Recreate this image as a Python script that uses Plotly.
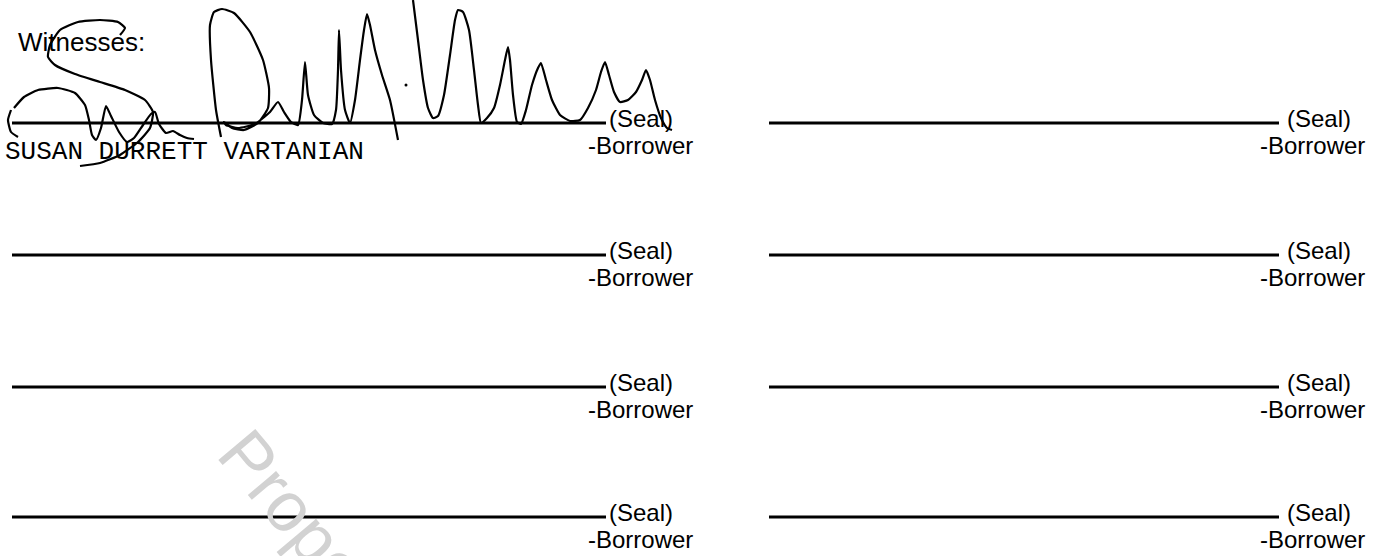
import plotly.graph_objects as go

# ---- data (pixel units of a 1384x556 page) ----
row_line_y = [123, 255, 387, 517]
left_line_x = [12, 606]
right_line_x = [769, 1279]
seal_label = "(Seal)"
borrower_label = "-Borrower"
witness_label = "Witnesses:"
printed_name = "SUSAN DURRETT VARTANIAN"
watermark_text = "Property of"

# signature strokes (traced)
sig_a_x = [11, 8, 11, 18]
sig_a_y = [110, 120, 132, 137]

sig_b_x = [120, 125, 118, 100, 78, 60, 50, 48, 55, 75, 100, 125, 145, 153, 150, 138, 120, 100, 80]
sig_b_y = [35, 28, 22, 20, 22, 30, 45, 57, 65, 74, 82, 90, 100, 112, 128, 142, 155, 163, 166]

sig_c_x = [14, 24, 38, 58, 75, 85, 89, 92, 96, 101, 106, 111, 119, 127, 134, 143, 151, 155, 159, 166, 173, 180, 187, 194]
sig_c_y = [108, 97, 90, 88, 93, 105, 120, 135, 140, 128, 106, 116, 132, 142, 138, 125, 114, 112, 124, 133, 131, 135, 138, 139]

sig_d_x = [221, 216, 211, 210, 214, 222, 234, 250, 263, 269, 268, 258, 244, 232, 224, 226, 238, 255, 270, 278, 284, 291, 298,
           302, 305, 308, 314, 323, 332, 336, 338, 339, 341, 345, 350, 355, 360, 364, 367, 370, 375, 382, 390, 398]
sig_d_y = [137, 110, 60, 25, 12, 9, 13, 32, 60, 88, 108, 123, 130, 128, 122, 125, 128, 124, 112, 102, 112, 122, 125,
           100, 62, 95, 115, 123, 124, 110, 70, 30, 70, 110, 123, 100, 60, 30, 14, 25, 50, 75, 100, 140]

sig_e_x = [413, 418, 423, 428, 433, 438, 444, 450, 455, 458, 463, 469, 474, 478, 481,
           487, 494, 500, 505, 508, 510, 513, 517, 521,
           526, 532, 538, 541, 546, 552, 560, 570, 580,
           588, 596, 601, 605, 609, 614, 620, 628, 636, 642, 646, 650, 655, 661, 667, 672]
sig_e_y = [0, 40, 80, 108, 118, 116, 95, 55, 20, 10, 12, 30, 70, 105, 123,
           118, 108, 85, 60, 47, 60, 95, 122, 124,
           110, 85, 68, 63, 80, 100, 115, 121, 120,
           108, 90, 72, 62, 75, 92, 102, 100, 92, 80, 70, 80, 100, 118, 128, 130]

sig_dot_x = [406]
sig_dot_y = [85]

W, H = 1384, 556
SANS = "Liberation Sans, Arial, sans-serif"
MONO = "Liberation Mono, Courier New, monospace"

fig = go.Figure()

# signature lines on every row, both columns
for y in row_line_y:
    for xs in (left_line_x, right_line_x):
        fig.add_trace(go.Scatter(x=xs, y=[y, y], mode="lines",
                                 line=dict(color="black", width=3),
                                 hoverinfo="skip", showlegend=False))

# handwritten signature
for sx, sy in [(sig_a_x, sig_a_y), (sig_b_x, sig_b_y), (sig_c_x, sig_c_y),
               (sig_d_x, sig_d_y), (sig_e_x, sig_e_y)]:
    fig.add_trace(go.Scatter(x=sx, y=sy, mode="lines",
                             line=dict(color="black", width=2.2, shape="spline", smoothing=0.5),
                             hoverinfo="skip", showlegend=False))
fig.add_trace(go.Scatter(x=sig_dot_x, y=sig_dot_y, mode="markers",
                         marker=dict(color="black", size=3),
                         hoverinfo="skip", showlegend=False))

annotations = []
for y in row_line_y:
    annotations.append(dict(x=left_line_x[1] + 1, y=y - 5, text=seal_label, xanchor="left", yanchor="middle",
                            font=dict(family=SANS, size=24, color="black")))
    annotations.append(dict(x=695, y=y + 22, text=borrower_label, xanchor="right", yanchor="middle",
                            font=dict(family=SANS, size=24, color="black")))
    annotations.append(dict(x=right_line_x[1] + 6, y=y - 5, text=seal_label, xanchor="left", yanchor="middle",
                            font=dict(family=SANS, size=24, color="black")))
    annotations.append(dict(x=1367, y=y + 22, text=borrower_label, xanchor="right", yanchor="middle",
                            font=dict(family=SANS, size=24, color="black")))

annotations.append(dict(x=16, y=42, text=witness_label, xanchor="left", yanchor="middle",
                        font=dict(family=SANS, size=26, color="black")))
annotations.append(dict(x=3, y=152, text=printed_name, xanchor="left", yanchor="middle",
                        font=dict(family=MONO, size=26, color="black")))
for a in annotations:
    a.update(xref="x", yref="y", showarrow=False)

# watermark (placed in paper units so it may run past the bottom edge)
annotations.append(dict(x=343 / W, y=1 - 571 / H, xref="paper", yref="paper", showarrow=False,
                        text=watermark_text, xanchor="center", yanchor="middle",
                        textangle=50, font=dict(family=SANS, size=70, color="#d2d2d2")))

fig.update_layout(
    width=W, height=H,
    margin=dict(l=0, r=0, t=0, b=0),
    paper_bgcolor="white", plot_bgcolor="white",
    xaxis=dict(range=[0, W], visible=False, fixedrange=True),
    yaxis=dict(range=[H, 0], visible=False, fixedrange=True),
    annotations=annotations,
    showlegend=False,
)

fig.write_html("out.html", config={"displayModeBar": False},
               post_script="document.body.style.margin='0';document.body.style.overflow='hidden';")
